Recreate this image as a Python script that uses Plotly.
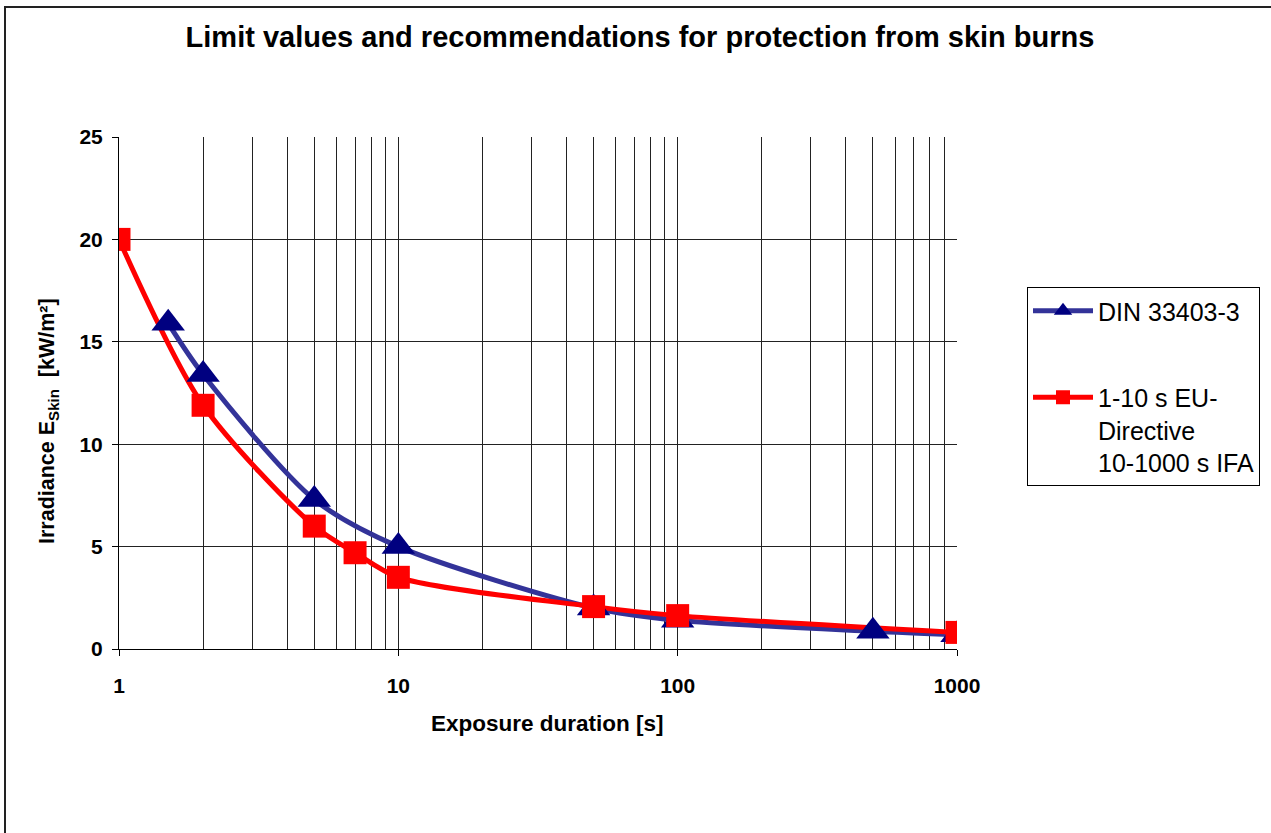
import plotly.graph_objects as go

# ---- data ----
din_x = [1.5, 2, 5, 10, 50, 100, 500, 1000]
din_y = [15.9, 13.4, 7.3, 5.0, 2.0, 1.4, 0.87, 0.7]

eu_x = [1, 2, 5, 7, 10, 50, 100, 1000]
eu_y = [20.0, 11.9, 6.0, 4.7, 3.5, 2.07, 1.63, 0.81]

x_ticks = [1, 10, 100, 1000]
x_ticklabels = ["1", "10", "100", "1000"]
y_ticks = [0, 5, 10, 15, 20, 25]

name_din = "DIN 33403-3"
name_eu = "1-10 s EU-<br>Directive<br>10-1000 s IFA"
title_text = "Limit values and recommendations for protection from skin burns"
x_title = "Exposure duration [s]"
y_title = "Irradiance E<sub>Skin</sub>  [kW/m²]"

# ---- layout geometry (reference pixels) ----
W, H = 1271, 833
L, R, T, B = 119, 957, 137, 649
pw, ph = R - L, B - T
def px_x(p):
    return (p - L) / pw
def px_y(p):
    return (B - p) / ph

FONT = "Liberation Sans, Arial, sans-serif"
BLUE_LINE = "#333399"
BLUE_MK = "#000080"
RED = "#FF0000"

minor_x = [m * d for d in (1, 10, 100) for m in range(2, 10)] + [10, 100]
minor_x = sorted(set(minor_x))

fig = go.Figure()

# lines first
fig.add_trace(go.Scatter(x=din_x, y=din_y, mode="lines", showlegend=False,
                         line=dict(color=BLUE_LINE, width=5, shape="spline", smoothing=0.8),
                         hoverinfo="skip"))
fig.add_trace(go.Scatter(x=eu_x, y=eu_y, mode="lines", showlegend=False,
                         line=dict(color=RED, width=5, shape="spline", smoothing=0.8),
                         hoverinfo="skip"))
# markers on top
fig.add_trace(go.Scatter(x=din_x, y=din_y, mode="markers", showlegend=False,
                         marker=dict(symbol="triangle-up", size=29, color=BLUE_MK,
                                     line=dict(width=0))))
fig.add_trace(go.Scatter(x=eu_x, y=eu_y, mode="markers", showlegend=False,
                         marker=dict(symbol="square", size=23, color=RED,
                                     line=dict(width=0))))
# legend entries
fig.add_trace(go.Scatter(x=[None], y=[None], mode="lines+markers", name=name_din,
                         legendgroup="a",
                         line=dict(color=BLUE_LINE, width=5),
                         marker=dict(symbol="triangle-up", size=16, color=BLUE_MK)))
fig.add_trace(go.Scatter(x=[None], y=[None], mode="lines+markers", name=name_eu,
                         legendgroup="b",
                         line=dict(color=RED, width=5),
                         marker=dict(symbol="square", size=14, color=RED)))

fig.update_layout(
    width=W, height=H,
    margin=dict(l=L, r=W - R, t=T, b=H - B, pad=0, autoexpand=False),
    paper_bgcolor="white", plot_bgcolor="white",
    font=dict(family=FONT, color="black"),
    title=dict(text=title_text, x=640 / W, xanchor="center",
               y=1 - 37 / H, yanchor="middle", yref="container",
               font=dict(family=FONT, size=29, weight="bold", color="black")),
    showlegend=True,
    legend=dict(x=px_x(1027), xanchor="left", y=px_y(287), yanchor="top",
                bordercolor="black", borderwidth=1, bgcolor="white",
                font=dict(family=FONT, size=25, color="black"),
                valign="top", tracegroupgap=51, itemwidth=60,
                traceorder="grouped"),
    xaxis=dict(type="log", range=[0, 3],
               tickvals=x_ticks, ticktext=x_ticklabels,
               ticks="outside", ticklen=6, tickcolor="black", tickwidth=1,
               showgrid=False, zeroline=False,
               showline=True, linecolor="black", linewidth=1,
               ticklabelstandoff=12,
               tickfont=dict(family=FONT, size=21, weight="bold", color="black"),
               minor=dict(tickvals=minor_x, showgrid=True, gridcolor="#222222",
                          gridwidth=1, ticks="")),
    yaxis=dict(range=[0, 25], tickvals=y_ticks,
               ticks="outside", ticklen=6, tickcolor="black", tickwidth=1,
               showgrid=False, zeroline=False,
               showline=True, linecolor="black", linewidth=1,
               ticklabelstandoff=5,
               tickfont=dict(family=FONT, size=21, weight="bold", color="black"),
               minor=dict(tickvals=[5, 10, 15, 20], showgrid=True, gridcolor="#222222",
                          gridwidth=1, ticks="")),
    annotations=[
        dict(text=x_title, xref="paper", yref="paper", x=px_x(547), y=px_y(723),
             xanchor="center", yanchor="middle", showarrow=False,
             font=dict(family=FONT, size=22.5, weight="bold", color="black")),
        dict(text=y_title, xref="paper", yref="paper", x=px_x(48), y=px_y(421),
             xanchor="center", yanchor="middle", showarrow=False, textangle=-90,
             font=dict(family=FONT, size=21.5, weight="bold", color="black")),
    ],
    shapes=[
        dict(type="path", xref="paper", yref="paper",
             path=f"M {px_x(1300)},{px_y(7)} L {px_x(5)},{px_y(7)} L {px_x(5)},{px_y(860)}",
             line=dict(color="#222222", width=2)),
    ],
)

fig.write_html("out.html", config={"displayModeBar": False},
               post_script="document.body.style.margin='0';document.body.style.overflow='hidden';")
